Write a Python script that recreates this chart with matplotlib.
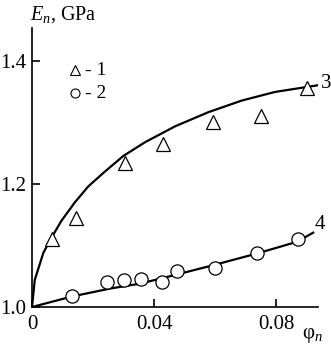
import matplotlib.pyplot as plt

plt.rcParams['font.family'] = ['Liberation Serif', 'DejaVu Serif']
plt.rcParams['mathtext.fontset'] = 'custom'
plt.rcParams['mathtext.rm'] = 'Liberation Serif'
plt.rcParams['mathtext.it'] = 'Liberation Serif:italic'

# series 1 (triangles) and 2 (circles)
phi_1 = [0.0066, 0.0144, 0.0305, 0.043, 0.0595, 0.0751, 0.0901]
E_1 = [1.111, 1.145, 1.234, 1.266, 1.301, 1.311, 1.356]
phi_2 = [0.0131, 0.0246, 0.0302, 0.0357, 0.0426, 0.0475, 0.060, 0.0738, 0.0872]
E_2 = [1.018, 1.040, 1.044, 1.046, 1.041, 1.059, 1.064, 1.088, 1.110]

# curve 3 and curve 4
phi_3 = [0.0, 0.0009, 0.0037, 0.0063, 0.0096, 0.014, 0.0184, 0.0238, 0.030,
         0.037, 0.0469, 0.0578, 0.0688, 0.0797, 0.0939]
E_3 = [1.0, 1.044, 1.088, 1.112, 1.140, 1.170, 1.196, 1.220, 1.246,
       1.268, 1.294, 1.317, 1.336, 1.350, 1.361]
phi_4 = [0.0, 0.0130, 0.0256, 0.0354, 0.0452, 0.0594, 0.0737, 0.0868, 0.0922]
E_4 = [1.0, 1.017, 1.030, 1.038, 1.050, 1.068, 1.087, 1.106, 1.121]

fig = plt.figure(figsize=(3.31, 3.46), dpi=100)
ax = fig.add_axes([0.0967, 0.1127, 0.8643, 0.8063])

ax.plot(phi_3, E_3, color='black', lw=1.6)
ax.plot(phi_4, E_4, color='black', lw=1.6)
ax.plot(phi_1, E_1, ls='none', marker='^', ms=10, mfc='white', mec='black', mew=0.9)
ax.plot(phi_2, E_2, ls='none', marker='o', ms=9.5, mfc='white', mec='black', mew=0.9)

ax.set_xlim(0, 0.0938)
ax.set_ylim(1.0, 1.454)
ax.set_xticks([0, 0.04, 0.08])
ax.set_xticklabels(['0', '0.04', '0.08'])
ax.set_yticks([1.0, 1.2, 1.4])
ax.set_yticklabels(['1.0', '1.2', '1.4'])
ax.tick_params(direction='in', length=6, width=1.2, labelsize=15, pad=4)
ax.tick_params(axis='x', pad=6)
for s in ['top', 'right']:
    ax.spines[s].set_visible(False)
for s in ['left', 'bottom']:
    ax.spines[s].set_linewidth(1.2)

ax.text(0.0948, 1.363, '3', fontsize=15, va='center', ha='left', clip_on=False)
ax.text(0.0925, 1.135, '4', fontsize=15, va='center', ha='left', clip_on=False)

# legend drawn by hand
ax.plot([0.150], [0.849], transform=ax.transAxes, marker='^', ms=7, mfc='white', mec='black', mew=0.8)
ax.plot([0.150], [0.767], transform=ax.transAxes, marker='o', ms=6.5, mfc='white', mec='black', mew=0.8)
ax.text(0.185, 0.849, '- 1', transform=ax.transAxes, fontsize=14, va='center', ha='left')
ax.text(0.185, 0.767, '- 2', transform=ax.transAxes, fontsize=14, va='center', ha='left')

fig.text(0.09, 0.958, r'$E_n$, GPa', fontsize=14.5, ha='left', va='center')
fig.text(0.912, 0.03, r'$\mathrm{\varphi}_n$', fontsize=15, ha='left', va='center')

fig.savefig('out.png', dpi=100)
